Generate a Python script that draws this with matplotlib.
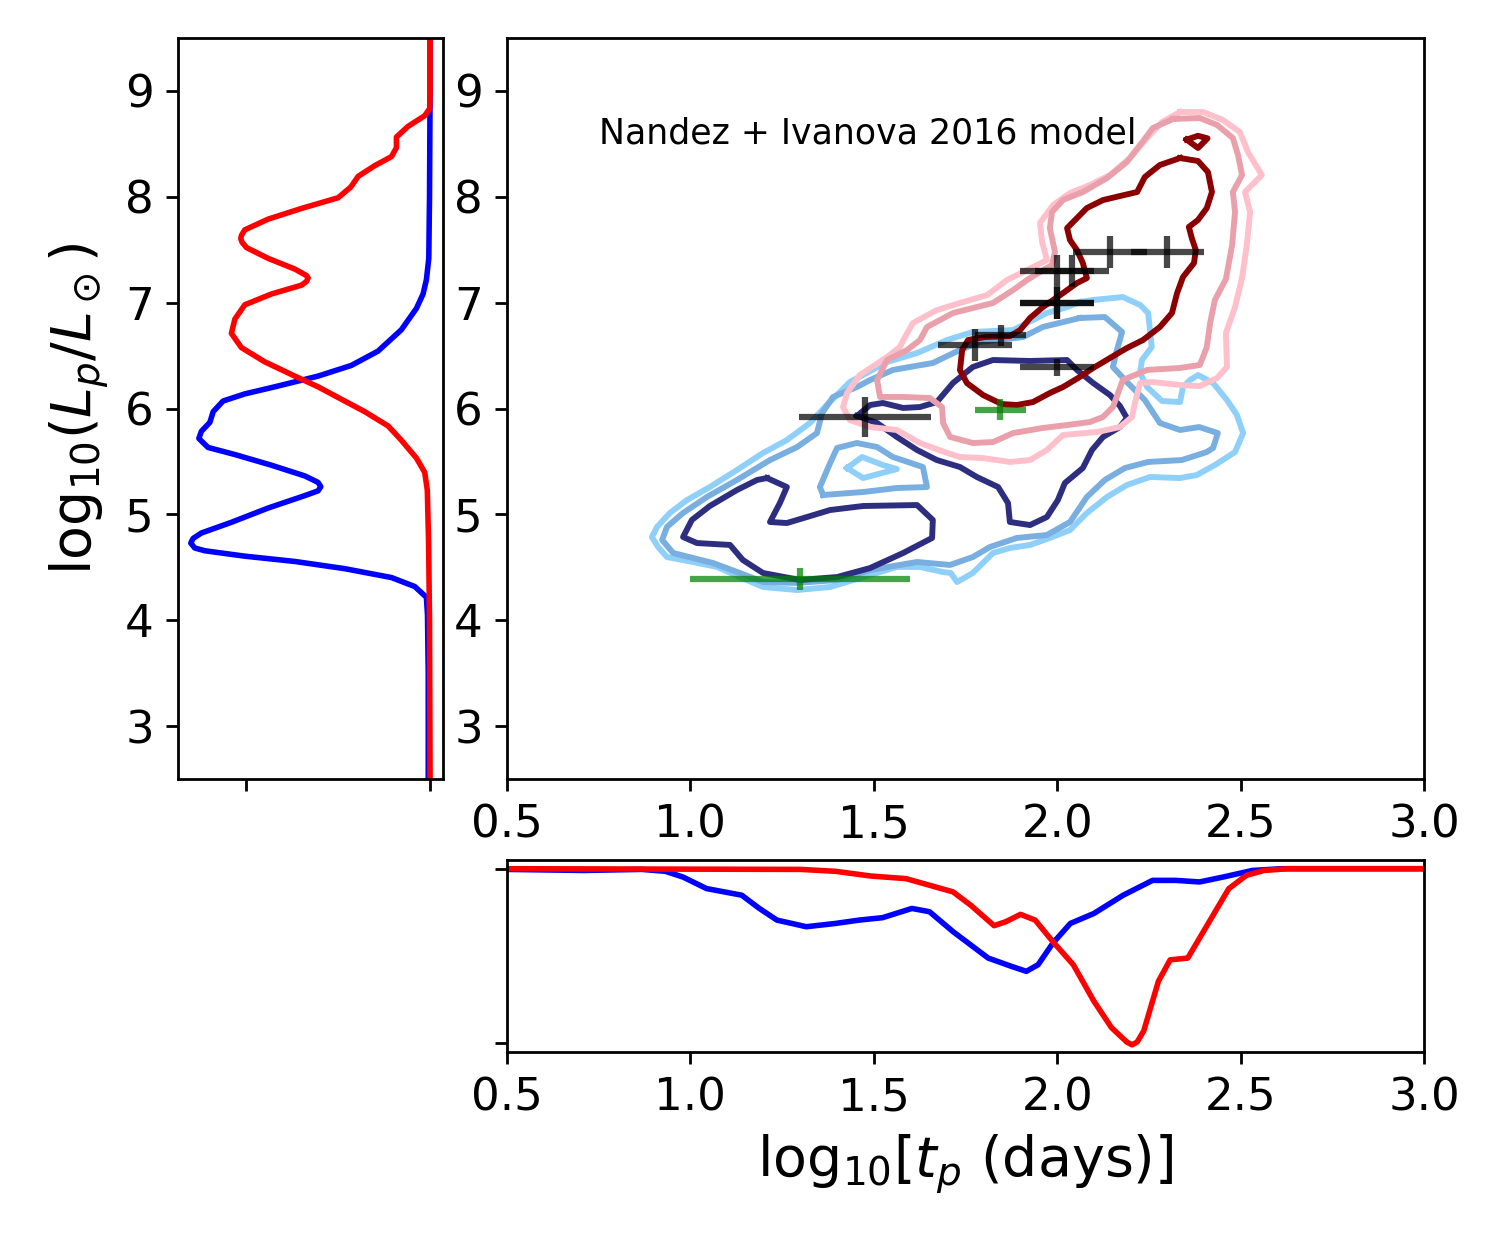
import matplotlib
matplotlib.use("Agg")
import matplotlib.pyplot as plt

# ---------------- data ----------------
# contour lines of the two KDE distributions (log10 t_p, log10 L_p)
blue_outer = [(2.062,7.006),(2.098,7.025),(2.179,7.053),(2.226,6.978),(2.248,6.902),(2.253,6.741),(2.258,6.581),(2.231,6.458),(2.226,6.335),(2.245,6.203),(2.286,6.071),(2.335,6.061),(2.343,6.203),(2.362,6.269),(2.384,6.316),(2.425,6.241),(2.463,6.080),(2.490,5.939),(2.507,5.768),(2.485,5.589),(2.430,5.466),(2.381,5.372),(2.335,5.343),(2.253,5.353),(2.190,5.277),(2.136,5.164),(2.081,5.013),(2.035,4.852),(1.980,4.777),(1.926,4.711),(1.871,4.682),(1.825,4.635),(1.770,4.446),(1.727,4.361),(1.710,4.446),(1.689,4.455),(1.626,4.503),(1.563,4.503),(1.471,4.408),(1.381,4.314),(1.291,4.285),(1.198,4.314),(1.135,4.408),(1.073,4.503),(1.007,4.550),(0.936,4.597),(0.912,4.692),(0.895,4.786),(0.909,4.881),(0.944,5.013),(0.991,5.136),(1.053,5.258),(1.127,5.419),(1.198,5.580),(1.263,5.702),(1.326,5.863),(1.372,6.033),(1.435,6.250),(1.536,6.439),(1.618,6.524),(1.700,6.647),(1.770,6.723),(1.880,6.741),(1.918,6.808),(1.972,6.902),(2.027,6.958)]
blue_outer_island = [(1.427,5.438),(1.468,5.542),(1.525,5.466),(1.563,5.428),(1.471,5.343)]
blue_mid = [(2.062,6.855),(2.130,6.864),(2.177,6.723),(2.163,6.553),(2.152,6.392),(2.190,6.250),(2.239,6.080),(2.280,5.863),(2.335,5.797),(2.387,5.825),(2.438,5.768),(2.425,5.627),(2.408,5.589),(2.340,5.513),(2.248,5.495),(2.185,5.438),(2.130,5.325),(2.081,5.164),(2.035,4.928),(1.972,4.805),(1.890,4.777),(1.817,4.692),(1.770,4.597),(1.708,4.522),(1.618,4.550),(1.490,4.474),(1.400,4.380),(1.291,4.352),(1.198,4.361),(1.135,4.446),(1.062,4.540),(1.007,4.588),(0.953,4.635),(0.923,4.758),(0.936,4.881),(0.980,5.013),(1.045,5.164),(1.127,5.325),(1.217,5.513),(1.291,5.636),(1.345,5.768),(1.359,5.957),(1.389,6.109),(1.454,6.203),(1.490,6.269),(1.552,6.364),(1.661,6.430),(1.735,6.553),(1.790,6.628),(1.907,6.675),(1.961,6.770)]
blue_mid_island = [(1.362,5.183),(1.353,5.258),(1.381,5.485),(1.400,5.627),(1.454,5.674),(1.509,5.636),(1.552,5.542),(1.634,5.447),(1.645,5.258),(1.563,5.249),(1.471,5.211)]
blue_inner_a = [(1.454,5.929),(1.490,6.033),(1.525,6.052),(1.580,6.005),(1.626,6.014),(1.672,6.061),(1.716,6.241),(1.770,6.392),(1.825,6.458),(1.926,6.449),(2.027,6.458),(2.054,6.364),(2.098,6.241),(2.144,6.127),(2.171,6.024),(2.190,5.910),(2.171,5.825),(2.125,5.731),(2.095,5.608),(2.070,5.438),(2.021,5.296),(2.002,5.136),(1.972,4.975),(1.926,4.899),(1.871,4.928),(1.866,5.107),(1.839,5.258),(1.781,5.353),(1.735,5.447),(1.672,5.513),(1.618,5.608),(1.563,5.731),(1.509,5.863)]
blue_inner_b = [(1.209,5.343),(1.263,5.258),(1.244,5.107),(1.217,4.928),(1.263,4.918),(1.318,4.975),(1.381,5.041),(1.471,5.079),(1.618,5.088),(1.661,4.947),(1.659,4.777),(1.580,4.635),(1.490,4.493),(1.400,4.408),(1.299,4.380),(1.198,4.446),(1.143,4.569),(1.108,4.711),(1.018,4.729),(0.980,4.786),(1.004,4.947),(1.053,5.079),(1.127,5.230),(1.182,5.325)]

red_outer = [(2.335,8.801),(2.398,8.801),(2.452,8.725),(2.498,8.612),(2.520,8.423),(2.558,8.206),(2.512,8.045),(2.526,7.856),(2.517,7.544),(2.504,7.233),(2.485,6.959),(2.460,6.713),(2.463,6.392),(2.436,6.288),(2.389,6.212),(2.335,6.222),(2.261,6.250),(2.226,6.241),(2.212,6.052),(2.204,5.920),(2.171,5.825),(2.109,5.778),(2.016,5.750),(1.972,5.608),(1.926,5.513),(1.871,5.495),(1.798,5.532),(1.735,5.542),(1.700,5.580),(1.626,5.674),(1.563,5.797),(1.490,5.825),(1.435,5.891),(1.416,6.014),(1.427,6.146),(1.462,6.316),(1.536,6.486),(1.571,6.581),(1.585,6.675),(1.607,6.808),(1.672,6.930),(1.735,6.997),(1.809,7.072),(1.863,7.214),(1.918,7.308),(1.972,7.403),(1.959,7.573),(1.953,7.752),(1.989,7.922),(2.035,8.036),(2.089,8.111),(2.144,8.206),(2.198,8.366),(2.245,8.555),(2.286,8.706)]
red_mid = [(2.316,8.735),(2.389,8.744),(2.436,8.678),(2.479,8.555),(2.493,8.395),(2.504,8.206),(2.479,8.045),(2.485,7.856),(2.477,7.544),(2.460,7.223),(2.430,7.025),(2.417,6.808),(2.408,6.581),(2.389,6.411),(2.335,6.383),(2.245,6.364),(2.179,6.269),(2.166,6.146),(2.152,6.014),(2.125,5.920),(2.089,5.872),(2.027,5.844),(1.961,5.816),(1.880,5.768),(1.825,5.683),(1.770,5.674),(1.708,5.731),(1.689,5.863),(1.686,6.014),(1.653,6.099),(1.580,6.109),(1.517,6.109),(1.509,6.269),(1.536,6.458),(1.591,6.553),(1.626,6.647),(1.645,6.770),(1.716,6.902),(1.770,6.949),(1.825,6.997),(1.880,7.119),(1.918,7.214),(1.953,7.289),(1.986,7.356),(1.994,7.478),(1.980,7.705),(1.986,7.856),(2.016,7.970),(2.070,8.045),(2.136,8.177),(2.190,8.329),(2.226,8.489),(2.261,8.650)]
red_inner = [(2.335,8.366),(2.384,8.338),(2.411,8.234),(2.422,8.045),(2.408,7.894),(2.384,7.781),(2.359,7.715),(2.367,7.610),(2.378,7.496),(2.373,7.374),(2.343,7.242),(2.327,7.091),(2.313,6.902),(2.280,6.770),(2.234,6.647),(2.190,6.571),(2.144,6.477),(2.098,6.382),(2.057,6.288),(2.016,6.203),(1.980,6.146),(1.934,6.061),(1.890,6.033),(1.849,6.042),(1.798,6.127),(1.754,6.240),(1.735,6.363),(1.741,6.552),(1.757,6.647),(1.803,6.675),(1.871,6.684),(1.899,6.741),(1.926,6.855),(1.961,6.958),(2.008,7.071),(2.054,7.185),(2.081,7.232),(2.070,7.374),(2.054,7.496),(2.035,7.591),(2.027,7.704),(2.054,7.799),(2.081,7.894),(2.125,7.969),(2.171,8.007),(2.218,8.045),(2.239,8.187),(2.280,8.300)]
red_inner_island = [(2.353,8.540),(2.384,8.576),(2.410,8.552),(2.384,8.461)]

# observed transients (black) and green points
obs_logt = [2.144, 2.30, 2.00, 2.04, 2.00, 2.00, 1.846, 1.776, 2.00, 1.476]
obs_logL = [7.475, 7.475, 7.30, 7.30, 7.00, 7.00, 6.69, 6.60, 6.39, 5.92]
obs_logt_err = [0.10, 0.10, 0.10, 0.10, 0.10, 0.10, 0.07, 0.10, 0.10, 0.18]
obs_logL_err = [0.15, 0.15, 0.15, 0.15, 0.15, 0.15, 0.10, 0.15, 0.08, 0.19]
grn_logt = [1.845, 1.30]
grn_logL = [5.99, 4.39]
grn_logt_err = [0.07, 0.30]
grn_logL_err = [0.10, 0.10]

# marginal densities (drawn as negative values)
margL_blue_L = [2.5, 3.5, 4.049, 4.217, 4.318, 4.403, 4.487, 4.555, 4.605, 4.656, 4.682, 4.729, 4.773, 4.824, 4.925, 5.060, 5.177, 5.222, 5.262, 5.302, 5.363, 5.464, 5.565, 5.632, 5.717, 5.785, 5.869, 5.970, 6.071, 6.138, 6.205, 6.306, 6.407, 6.542, 6.744, 6.946, 7.082, 7.217, 7.418, 8.0, 9.0, 9.5]
margL_blue_d = [-0.01, -0.01, -0.014, -0.020, -0.083, -0.210, -0.464, -0.735, -1.007, -1.224, -1.279, -1.301, -1.288, -1.243, -1.080, -0.880, -0.681, -0.609, -0.594, -0.609, -0.681, -0.862, -1.061, -1.207, -1.257, -1.243, -1.197, -1.179, -1.125, -1.007, -0.844, -0.609, -0.428, -0.283, -0.156, -0.074, -0.038, -0.020, -0.007, -0.003, 0.0, 0.0]
margL_red_L = [2.5, 4.0, 4.723, 5.228, 5.396, 5.531, 5.700, 5.835, 5.970, 6.104, 6.205, 6.306, 6.441, 6.576, 6.710, 6.845, 6.980, 7.082, 7.165, 7.200, 7.233, 7.256, 7.317, 7.418, 7.520, 7.570, 7.604, 7.637, 7.688, 7.789, 7.890, 7.991, 8.092, 8.193, 8.294, 8.379, 8.463, 8.564, 8.665, 8.766, 8.834, 9.0, 9.5]
margL_red_d = [0.0, -0.003, -0.008, -0.015, -0.029, -0.074, -0.156, -0.228, -0.355, -0.500, -0.609, -0.735, -0.899, -1.026, -1.080, -1.061, -1.007, -0.862, -0.699, -0.672, -0.663, -0.672, -0.735, -0.880, -0.998, -1.022, -1.029, -1.025, -1.007, -0.880, -0.699, -0.500, -0.431, -0.391, -0.301, -0.210, -0.183, -0.183, -0.120, -0.029, -0.002, 0.0, 0.0]
margT_blue_t = [0.5, 0.708, 0.868, 0.932, 0.980, 1.044, 1.092, 1.140, 1.188, 1.236, 1.316, 1.396, 1.460, 1.524, 1.604, 1.652, 1.716, 1.812, 1.876, 1.916, 1.948, 1.988, 2.036, 2.100, 2.180, 2.260, 2.324, 2.388, 2.452, 2.532, 2.612, 3.0]
margT_blue_d = [-0.004, -0.010, -0.004, -0.015, -0.048, -0.114, -0.133, -0.152, -0.228, -0.295, -0.333, -0.314, -0.295, -0.281, -0.228, -0.247, -0.361, -0.513, -0.561, -0.589, -0.551, -0.428, -0.314, -0.257, -0.152, -0.067, -0.067, -0.076, -0.048, -0.010, 0.0, 0.0]
margT_red_t = [0.5, 1.30, 1.396, 1.492, 1.588, 1.716, 1.764, 1.828, 1.860, 1.900, 1.940, 1.988, 2.044, 2.100, 2.148, 2.190, 2.204, 2.218, 2.236, 2.276, 2.308, 2.356, 2.404, 2.468, 2.516, 2.564, 2.628, 3.0]
margT_red_d = [0.0, -0.004, -0.015, -0.042, -0.057, -0.133, -0.209, -0.327, -0.304, -0.262, -0.295, -0.418, -0.551, -0.760, -0.912, -0.995, -1.011, -0.995, -0.931, -0.646, -0.523, -0.513, -0.342, -0.114, -0.038, -0.010, 0.0, 0.0]

x_ticks = [0.5, 1.0, 1.5, 2.0, 2.5, 3.0]
y_ticks = [3, 4, 5, 6, 7, 8, 9]
label_text = "Nandez + Ivanova 2016 model"

# ---------------- figure ----------------
plt.rcParams['font.family'] = ['DejaVu Sans']
fig = plt.figure(figsize=(6, 5), dpi=250)
ax = fig.add_axes([0.338, 0.3768, 0.6113, 0.5928])
axl = fig.add_axes([0.1187, 0.3768, 0.1766, 0.5928])
axb = fig.add_axes([0.338, 0.1584, 0.6113, 0.1536])

def draw_closed(a, pts, color, lw=1.7, z=2):
    xs = [p[0] for p in pts] + [pts[0][0]]
    ys = [p[1] for p in pts] + [pts[0][1]]
    a.plot(xs, ys, color=color, lw=lw, zorder=z, solid_joinstyle='round')

c_b1, c_b2, c_b3 = '#8fd0fa', '#78aee0', '#2e2e80'
c_r1, c_r2, c_r3 = '#ffc0cb', '#e9a0aa', '#8b0000'

draw_closed(ax, blue_outer, c_b1)
draw_closed(ax, blue_outer_island, c_b1)
draw_closed(ax, blue_mid, c_b2)
draw_closed(ax, blue_mid_island, c_b2)
draw_closed(ax, blue_inner_a, c_b3)
draw_closed(ax, blue_inner_b, c_b3)
draw_closed(ax, red_outer, c_r1, z=3)
draw_closed(ax, red_mid, c_r2, z=3)
draw_closed(ax, red_inner, c_r3, z=3)
draw_closed(ax, red_inner_island, c_r3, z=3)

ax.errorbar(obs_logt, obs_logL, xerr=obs_logt_err, yerr=obs_logL_err, fmt='none',
            ecolor='k', elinewidth=1.8, alpha=0.72, zorder=5)
ax.errorbar(grn_logt, grn_logL, xerr=grn_logt_err, yerr=grn_logL_err, fmt='none',
            ecolor='green', elinewidth=1.8, alpha=0.72, zorder=5)

ax.text(0.75, 8.5, label_text, fontsize=10)
ax.set_xlim(0.5, 3.0)
ax.set_ylim(2.5, 9.5)
ax.set_xticks(x_ticks)
ax.set_yticks(y_ticks)
ax.tick_params(labelsize=13)

# left marginal
axl.plot(margL_blue_d, margL_blue_L, color='blue', lw=1.6, solid_joinstyle='round')
axl.plot(margL_red_d, margL_red_L, color='red', lw=1.6, solid_joinstyle='round')
axl.set_ylim(2.5, 9.5)
axl.set_xlim(-1.37, 0.07)
axl.set_xticks([-1, 0])
axl.set_xticklabels([])
axl.set_yticks(y_ticks)
axl.tick_params(labelsize=13)
axl.set_ylabel(r'$\mathrm{log}_{10}(L_p/L_\odot)$', fontsize=16)

# bottom marginal
axb.plot(margT_blue_t, margT_blue_d, color='blue', lw=1.6, solid_joinstyle='round')
axb.plot(margT_red_t, margT_red_d, color='red', lw=1.6, solid_joinstyle='round')
axb.set_xlim(0.5, 3.0)
axb.set_ylim(-1.052, 0.05)
axb.set_yticks([-1, 0])
axb.set_yticklabels([])
axb.set_xticks(x_ticks)
axb.tick_params(labelsize=13)
axb.set_xlabel(r'log$_{10}$[$t_p$ (days)]', fontsize=16)

fig.savefig('out.png', dpi=250)
